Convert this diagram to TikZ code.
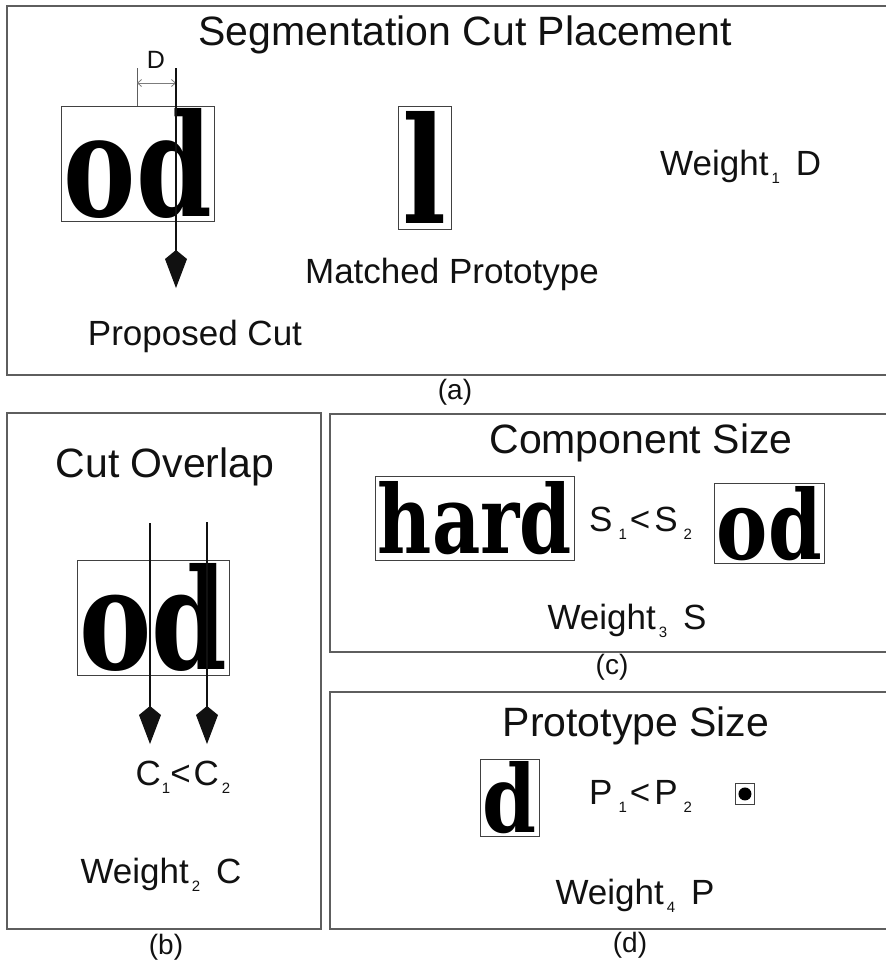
\documentclass[tikz,border=0pt]{standalone}
\usepackage{fontspec}
\usepackage{graphicx}
\setmainfont{Liberation Sans}
\newfontfamily\glyphfont{DejaVu Serif}
\usetikzlibrary{positioning, arrows.meta}
\definecolor{figink}{HTML}{111111}
\definecolor{figframe}{HTML}{5E5E5E}
\definecolor{figdim}{HTML}{7C7C7C}
\newcommand{\lowidx}[2][3pt]{\kern#1\raisebox{-8pt}{\fontsize{15}{15}\selectfont #2}}
\newcommand{\scanglyph}[3]{\resizebox{#1pt}{#2pt}{\glyphfont\bfseries #3}}

\begin{document}
\begin{tikzpicture}[
  x=1pt, y=-1pt,
  line join=miter,
  frame/.style = {draw=figframe, line width=1.3pt},
  title/.style = {font=\fontsize{41}{48}\selectfont, text=figink,
                  anchor=base, inner sep=0pt},
  lbl/.style   = {font=\fontsize{35}{42}\selectfont, text=figink,
                  anchor=base, inner sep=0pt},
  dlbl/.style  = {font=\fontsize{25}{30}\selectfont, text=figink,
                  anchor=base, inner sep=0pt},
  tag/.style   = {font=\fontsize{28}{32}\selectfont, text=figink,
                  anchor=base, inner sep=0pt},
  glyphbox/.style = {draw=figink!80, line width=0.9pt, inner sep=0pt,
                     anchor=north west, text=black},
  cut/.style   = {draw=figink, line width=1.2pt,
                  -{Kite[length=38pt, width=22pt, inset=9pt]}},
  dimline/.style = {draw=figdim, line width=0.8pt,
                    {Straight Barb[length=4pt, width=7pt]}-{Straight Barb[length=4pt, width=7pt]}}
]
\useasboundingbox (0,0) rectangle (886,967);

% panel frames
\draw[frame] (7,6) rectangle (888,375);
\draw[frame] (7,413) rectangle (321,929);
\draw[frame] (330,414) rectangle (888,652);
\draw[frame] (330,692) rectangle (888,929);

% (a) segmentation cut placement
\node[title] (ttlA) at (465,45) {Segmentation Cut Placement};
\node[glyphbox, minimum width=153pt, minimum height=115pt] (odA) at (61,106)
  {\scanglyph{148}{108}{od}};
\node[glyphbox, minimum width=53pt, minimum height=123pt] (protoL) at (398,106)
  {\scanglyph{44}{112}{l}};
\node[lbl] (matched) at (452,283) {Matched Prototype};
\node[lbl] (propcut) at (195,345) {Proposed Cut};
\node[lbl, anchor=base west] (wgtA) at (660,175) {Weight\lowidx{1}\kern16pt D};
\node[tag] (tagA) at (455,399) {(a)};

\coordinate (dimL) at (137,68);
\coordinate (cutAtop) at (176,68);
\coordinate (cutAend) at (176,288);
\coordinate (dimA) at (137,83);
\coordinate (dimB) at (176,83);
\draw[figframe, line width=0.9pt] (dimL) -- (dimL |- odA.north);
\draw[dimline] (dimA) -- (dimB);
\node[dlbl] (dlab) at (156,68) {D};
\draw[cut] (cutAtop) -- (cutAend);

% (b) cut overlap
\node[title] (ttlB) at (165,477) {Cut Overlap};
\node[glyphbox, minimum width=152pt, minimum height=115pt] (odB) at (77,560)
  {\scanglyph{148}{106}{od}};
\coordinate (cutOnetop) at (150,523);
\coordinate (cutOneend) at (150,744);
\coordinate (cutTwotop) at (207,522);
\coordinate (cutTwoend) at (207,744);
\draw[cut] (cutOnetop) -- (cutOneend);
\draw[cut] (cutTwotop) -- (cutTwoend);
\node[lbl] (cless) at (183,785) {C\lowidx[1pt]{1}<\kern3pt C\lowidx{2}};
\node[lbl] (wgtB) at (161,883) {Weight\lowidx{2}\kern16pt C};
\node[tag] (tagB) at (166,954) {(b)};

% (c) component size
\node[title] (ttlC) at (641,453) {Component Size};
\node[glyphbox, minimum width=199pt, minimum height=84pt] (hardC) at (375,476)
  {\scanglyph{194}{72}{hard}};
\node[lbl, anchor=base west] (sless) at (589,531) {S\lowidx[6pt]{1}\kern3pt<\kern4pt S\lowidx[6pt]{2}};
\node[glyphbox, minimum width=110pt, minimum height=80pt] (odC) at (714,483)
  {\scanglyph{105}{73}{od}};
\node[lbl] (wgtC) at (627,629) {Weight\lowidx{3}\kern16pt S};
\node[tag] (tagC) at (612,674) {(c)};

% (d) prototype size
\node[title] (ttlD) at (636,736) {Prototype Size};
\node[glyphbox, minimum width=59pt, minimum height=77pt] (protoD) at (480,759)
  {\scanglyph{54}{71}{d}};
\node[lbl, anchor=base west] (pless) at (589,804) {P\lowidx[6pt]{1}\kern3pt<\kern4pt P\lowidx[6pt]{2}};
\node[glyphbox, minimum width=19pt, minimum height=21pt] (dotD) at (735,783) {};
\fill[black] (dotD.center) circle (6.5pt);
\node[lbl] (wgtD) at (635,904) {Weight\lowidx{4}\kern16pt P};
\node[tag] (tagD) at (630,952) {(d)};

\end{tikzpicture}
\end{document}
